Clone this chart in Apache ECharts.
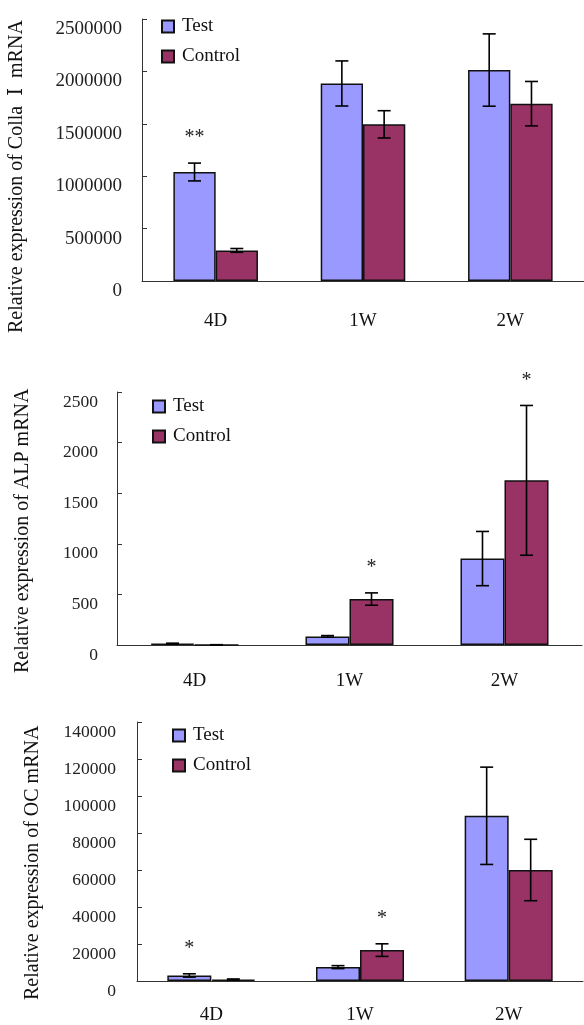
<!DOCTYPE html>
<html>
<head>
<meta charset="utf-8">
<script src="https://cdn.jsdelivr.net/npm/echarts@6/dist/echarts.min.js"></script>
<style>html,body{margin:0;padding:0;background:#fff;}#c{width:584px;height:1025px;}</style>
</head>
<body>
<div id="c"></div>
<script>
// ---- data ----
const categories = ['4D', '1W', '2W'];
const seriesNames = ['Test', 'Control'];

const collaTest = [1040000, 1885000, 2013000];
const collaTestErr = [85000, 215000, 345000];
const collaCtrl = [292000, 1495000, 1692000];
const collaCtrlErr = [18000, 130000, 212000];
const collaTestStars = ['**', '', ''];
const collaCtrlStars = ['', '', ''];
const collaTicks = { max: 2500000, interval: 500000 };

const alpTest = [14, 85, 854];
const alpTestErr = [4, 8, 268];
const alpCtrl = [0, 454, 1627];
const alpCtrlErr = [3, 61, 740];
const alpTestStars = ['', '', ''];
const alpCtrlStars = ['', '*', '*'];
const alpTicks = { max: 2500, interval: 500 };

const ocTest = [3000, 7500, 89300];
const ocTestErr = [900, 800, 26300];
const ocCtrl = [800, 16700, 60000];
const ocCtrlErr = [300, 3400, 16600];
const ocTestStars = ['*', '', ''];
const ocCtrlStars = ['', '*', ''];
const ocTicks = { max: 140000, interval: 20000 };

const yTitles = ['Relative expression of Colla  \u2160  mRNA', 'Relative expression of ALP mRNA', 'Relative expression of OC mRNA'];

// ---- style ----
const FONT = "'Liberation Serif', 'Times New Roman', 'DejaVu Serif', 'Noto Sans CJK SC', serif";
const TEST_COLOR = '#9999FF';
const CTRL_COLOR = '#993366';
const AXIS_COLOR = '#333';

const panels = [
  { grid: { left: 142, top: 19, right: -10, bottom: 744 }, ticks: collaTicks, frac: 0.287, tickFont: 19, tickMargin: 20, xMargin: 31,
    test: collaTest, testErr: collaTestErr, ctrl: collaCtrl, ctrlErr: collaCtrlErr, testStars: collaTestStars, ctrlStars: collaCtrlStars,
    legend: { left: 161, top: 17 }, title: { x: 17, y: 333 } },
  { grid: { left: 117, top: 392, right: 2, bottom: 380 }, ticks: alpTicks, frac: 0.284, tickFont: 17.5, tickMargin: 19, xMargin: 27,
    test: alpTest, testErr: alpTestErr, ctrl: alpCtrl, ctrlErr: alpCtrlErr, testStars: alpTestStars, ctrlStars: alpCtrlStars,
    legend: { left: 152, top: 397 }, title: { x: 23, y: 673 } },
  { grid: { left: 137, top: 722, right: 1, bottom: 44 }, ticks: ocTicks, frac: 0.296, tickFont: 17.5, tickMargin: 21, xMargin: 25,
    test: ocTest, testErr: ocTestErr, ctrl: ocCtrl, ctrlErr: ocCtrlErr, testStars: ocTestStars, ctrlStars: ocCtrlStars,
    legend: { left: 172, top: 726 }, title: { x: 33, y: 1000 } }
];

function errSeries(gi, side, vals, errs, stars, frac) {
  return {
    type: 'custom', xAxisIndex: gi, yAxisIndex: gi, silent: true, z: 10,
    data: vals.map((v, i) => [i, v, errs[i]]),
    renderItem: function (params, api) {
      const i = api.value(0), v = api.value(1), e = api.value(2);
      const band = api.size([1, 0])[0];
      const dx = side * band * frac / 2;
      const t = api.coord([i, v + e]);
      const b = api.coord([i, Math.max(v - e, 0)]);
      const x = t[0] + dx;
      const cap = 6.5;
      const st = { stroke: '#000', lineWidth: 1.6 };
      const children = [
        { type: 'line', shape: { x1: x, y1: t[1], x2: x, y2: b[1] }, style: st },
        { type: 'line', shape: { x1: x - cap, y1: t[1], x2: x + cap, y2: t[1] }, style: st },
        { type: 'line', shape: { x1: x - cap, y1: b[1], x2: x + cap, y2: b[1] }, style: st }
      ];
      const s = stars[params.dataIndex];
      if (s) {
        children.push({ type: 'text', style: { text: s, x: x, y: t[1] - 25, font: '20px ' + FONT, fill: '#222', align: 'center', verticalAlign: 'middle' } });
      }
      return { type: 'group', children: children };
    }
  };
}

const option = {
  animation: false,
  backgroundColor: '#fff',
  grid: panels.map(p => Object.assign({ containLabel: false }, p.grid)),
  legend: panels.map(p => ({
    data: seriesNames, orient: 'vertical', left: p.legend.left, top: p.legend.top, padding: 0,
    itemWidth: 12, itemHeight: 12, itemGap: 11, icon: 'rect', selectedMode: false,
    textStyle: { fontFamily: FONT, fontSize: 19, color: '#111', lineHeight: 18, padding: [0, 0, 0, 3] }
  })),
  xAxis: panels.map((p, gi) => ({
    type: 'category', gridIndex: gi, data: categories,
    axisLine: { lineStyle: { color: AXIS_COLOR, width: 1 } },
    axisTick: { inside: true, length: 5, lineStyle: { color: AXIS_COLOR } },
    axisLabel: { fontFamily: FONT, fontSize: 19, color: '#111', margin: p.xMargin }
  })),
  yAxis: panels.map((p, gi) => ({
    type: 'value', gridIndex: gi, min: 0, max: p.ticks.max, interval: p.ticks.interval,
    splitLine: { show: false },
    axisLine: { show: true, lineStyle: { color: AXIS_COLOR, width: 1 } },
    axisTick: { show: true, inside: true, length: 5, lineStyle: { color: AXIS_COLOR } },
    axisLabel: { fontFamily: FONT, fontSize: p.tickFont, color: '#222', margin: p.tickMargin, verticalAlign: 'top', lineHeight: 20,
      formatter: v => String(v) }
  })),
  series: [],
  graphic: panels.map((p, gi) => ({
    type: 'text', x: p.title.x, y: p.title.y, rotation: Math.PI / 2,
    style: { text: yTitles[gi], font: '20px ' + FONT, fill: '#111', align: 'left', verticalAlign: 'middle' }
  }))
};

panels.forEach((p, gi) => {
  option.series.push({
    name: 'Test', type: 'bar', xAxisIndex: gi, yAxisIndex: gi, data: p.test,
    barWidth: (p.frac * 100) + '%', barGap: '0%',
    itemStyle: { color: TEST_COLOR, borderColor: '#111', borderWidth: 1.5 }
  });
  option.series.push({
    name: 'Control', type: 'bar', xAxisIndex: gi, yAxisIndex: gi, data: p.ctrl,
    barWidth: (p.frac * 100) + '%', barGap: '0%',
    itemStyle: { color: CTRL_COLOR, borderColor: '#111', borderWidth: 1.5 }
  });
  option.series.push(errSeries(gi, -1, p.test, p.testErr, p.testStars, p.frac));
  option.series.push(errSeries(gi, 1, p.ctrl, p.ctrlErr, p.ctrlStars, p.frac));
});

const chart = echarts.init(document.getElementById('c'), null, { renderer: 'canvas' });
chart.setOption(option);
</script>
</body>
</html>
